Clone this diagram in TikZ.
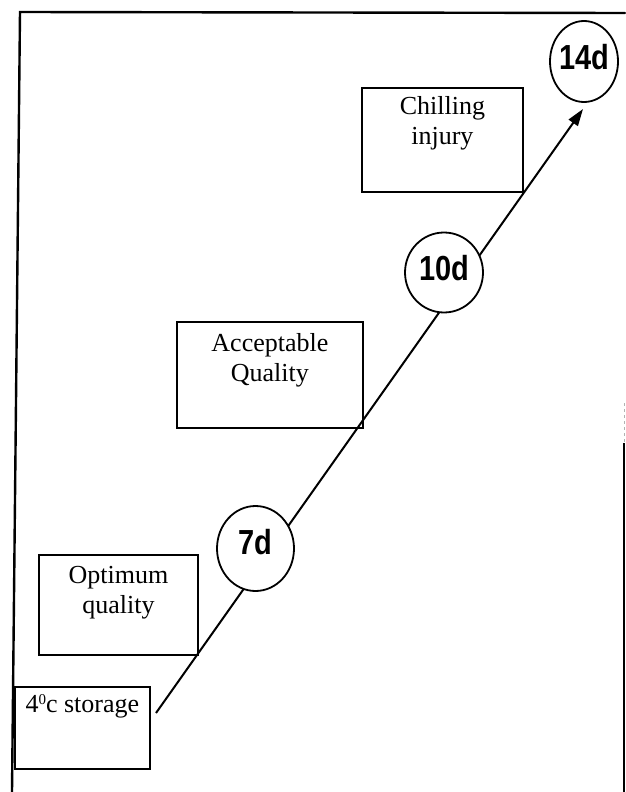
\documentclass[tikz,border=0pt]{standalone}
\usepackage{fontspec}
\setmainfont{Liberation Serif}
\newfontfamily\digitfont{Liberation Sans}
\usepackage{graphicx}
\usetikzlibrary{arrows.meta,shapes.geometric}

\begin{document}
\begin{tikzpicture}[x=1pt,y=-1pt,
  frame/.style={line width=2.4pt,line cap=round},
  box/.style={draw,line width=1.8pt,rectangle,inner sep=0pt,anchor=north west},
  boxtext/.style={font=\fontsize{26}{30}\selectfont,align=center,inner sep=0pt},
  day/.style={draw,ellipse,line width=1.8pt,fill=white,inner sep=0pt},
  daytext/.style={font=\digitfont\bfseries\fontsize{29}{30}\selectfont,inner sep=0pt},
  flow/.style={line width=2pt,-{Triangle[length=17pt,width=11pt]}}
]
\useasboundingbox (0,0) rectangle (625,792);
\fill[white] (0,0) rectangle (625,792);

% frame (scanned page border)
\draw[frame] (12,792) -- (20,12) -- (625,13);
\draw[line width=1.5pt] (624,443) -- (624,792);
\draw[line width=0.8pt,gray!60,dashed] (624,403) -- (624,443);

% boxes
\node[box,minimum width=161pt,minimum height=104pt] (chill) at (361,87) {};
\node[boxtext,anchor=north] (chilltxt) at ([yshift=-9pt]chill.north) {Chilling\\injury};

\node[box,minimum width=186pt,minimum height=106pt] (accept) at (176,321) {};
\node[boxtext,anchor=north] (accepttxt) at ([yshift=-12pt]accept.north) {Acceptable\\Quality};

\node[box,minimum width=159pt,minimum height=100pt] (opt) at (38,554) {};
\node[boxtext,anchor=north] (opttxt) at ([yshift=-12pt]opt.north) {Optimum\\quality};

\node[box,minimum width=135pt,minimum height=82pt] (store) at (14,686) {};
\node[boxtext,anchor=base] (storetxt) at ([yshift=-26pt]store.north)
  {4\raisebox{8pt}{\fontsize{15}{15}\selectfont 0}c storage};

% time line
\coordinate (s) at (156,713);
\coordinate (t) at (583,109);
\draw[flow] (s) -- (t);

% day circles
\node[day,minimum width=77pt,minimum height=85pt] (c7) at (255.5,548.5) {};
\node[daytext] (t7) at ([yshift=6pt]c7) {\scalebox{1}[1.2]{7d}};

\node[day,minimum width=78pt,minimum height=80pt] (c10) at (444,272.5) {};
\node[daytext] (t10) at ([yshift=4pt]c10) {\scalebox{1}[1.2]{10d}};

\node[day,minimum width=68pt,minimum height=81pt] (c14) at (584,61.5) {};
\node[daytext] (t14) at ([yshift=4pt]c14) {\scalebox{1}[1.2]{14d}};
\end{tikzpicture}
\end{document}
